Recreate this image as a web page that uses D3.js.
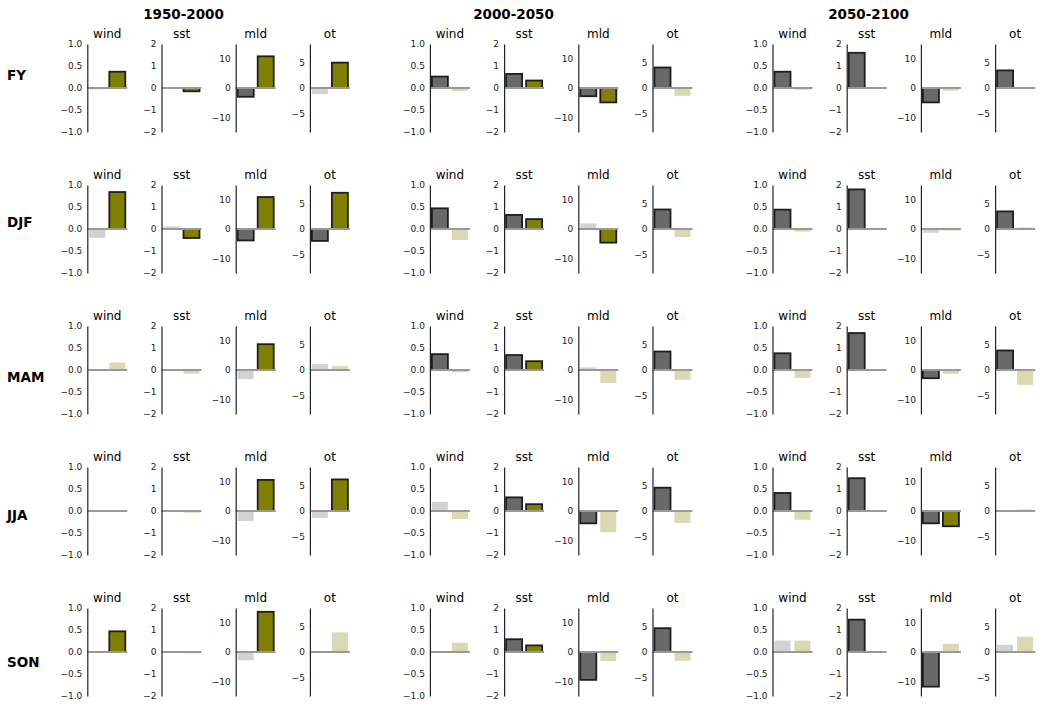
<!DOCTYPE html>
<html>
<head>
<meta charset="utf-8">
<script src="https://cdn.jsdelivr.net/npm/d3@7"></script>
<style>
  html, body { margin: 0; padding: 0; background: #fff; }
  svg { display: block; font-family: "DejaVu Sans", sans-serif; }
</style>
</head>
<body>
<svg id="chart" width="1042" height="709"></svg>
<script>
// ---------------- data ----------------
const periods = ["1950-2000", "2000-2050", "2050-2100"];
const seasons = ["FY", "DJF", "MAM", "JJA", "SON"];
const variables = ["wind", "sst", "mld", "ot"];

// values[period][season] = [first bar (grey), second bar (olive)]
const windVals = [
  [[-0.03, 0.37], [-0.20, 0.84], [0.00, 0.17], [0.00, 0.01], [0.00, 0.47]],
  [[0.26, -0.07], [0.47, -0.25], [0.36, -0.05], [0.21, -0.18], [0.00, 0.21]],
  [[0.37, -0.04], [0.44, -0.06], [0.38, -0.18], [0.41, -0.20], [0.26, 0.26]]
];
const sstVals = [
  [[0.00, -0.15], [0.12, -0.41], [0.00, -0.17], [0.00, -0.08], [0.00, -0.06]],
  [[0.64, 0.34], [0.64, 0.45], [0.68, 0.40], [0.62, 0.31], [0.58, 0.30]],
  [[1.60, 0.00], [1.80, 0.00], [1.68, 0.00], [1.49, 0.00], [1.47, 0.00]]
];
const mldVals = [
  [[-3.0, 10.8], [-3.9, 10.9], [-3.1, 8.8], [-3.4, 10.6], [-2.8, 13.7]],
  [[-2.8, -4.9], [1.9, -4.65], [0.9, -4.4], [-4.2, -7.2], [-9.5, -3.1]],
  [[-4.9, -0.9], [-1.3, -0.5], [-2.8, -1.3], [-4.2, -5.2], [-11.8, 2.8]]
];
const otVals = [
  [[-1.2, 4.9], [-2.3, 7.0], [1.17, 0.78], [-1.36, 6.1], [0.0, 3.8]],
  [[3.96, -1.5], [3.77, -1.56], [3.57, -1.9], [4.5, -2.3], [4.6, -1.7]],
  [[3.4, 0.0], [3.4, 0.3], [3.77, -2.86], [0.0, 0.3], [1.38, 2.96]]
];
// significance flags (1 = significant)
const windSig = [
  [[0, 1], [0, 1], [0, 0], [0, 0], [0, 1]],
  [[1, 0], [1, 0], [1, 0], [0, 0], [0, 0]],
  [[1, 0], [1, 0], [1, 0], [1, 0], [0, 0]]
];
const sstSig = [
  [[0, 1], [0, 1], [0, 0], [0, 0], [0, 0]],
  [[1, 1], [1, 1], [1, 1], [1, 1], [1, 1]],
  [[1, 0], [1, 0], [1, 0], [1, 0], [1, 0]]
];
const mldSig = [
  [[1, 1], [1, 1], [0, 1], [0, 1], [0, 1]],
  [[1, 1], [0, 1], [0, 0], [1, 0], [1, 0]],
  [[1, 0], [0, 0], [1, 0], [1, 1], [1, 0]]
];
const otSig = [
  [[0, 1], [1, 1], [0, 0], [0, 1], [0, 0]],
  [[1, 0], [1, 0], [1, 0], [1, 0], [1, 0]],
  [[1, 0], [1, 0], [1, 0], [0, 0], [0, 0]]
];

// axis limits and tick labels
const windLim = [-1, 1], windTicks = [-1, -0.5, 0, 0.5, 1];
const sstLim = [-2, 2], sstTicks = [-2, -1, 0, 1, 2];
const mldLim = [-15, 15], mldTicks = [-10, 0, 10];
const otLim = [-8.5, 8.5], otTicks = [-5, 0, 5];

// ---------------- layout / style ----------------
const varInfo = {
  wind: { vals: windVals, sig: windSig, lim: windLim, ticks: windTicks, fmt: d3.format(".1f") },
  sst:  { vals: sstVals,  sig: sstSig,  lim: sstLim,  ticks: sstTicks,  fmt: d3.format("d") },
  mld:  { vals: mldVals,  sig: mldSig,  lim: mldLim,  ticks: mldTicks,  fmt: d3.format("d") },
  ot:   { vals: otVals,   sig: otSig,   lim: otLim,   ticks: otTicks,   fmt: d3.format("d") }
};
const L = {
  x0: 87.3, periodStep: 342.6, varStep: 74.2, panelW: 40,
  y0: 44, rowStep: 141, panelH: 88,
  periodTitleX: [183.5, 513.5, 868.5], periodTitleY: 18.5,
  rowLabelX: 7, rowLabelCY: [75, 222, 377, 515, 662]
};
const colors = {
  sig: ["#696969", "#808000"],
  ns: ["#d2d2d2", "#d9d9b3"],
  edge: "#1e1e1e",
  zero: "#999999",
  axis: "#222222"
};

const svg = d3.select("#chart");

// period titles
svg.selectAll("text.ptitle").data(periods).join("text")
  .attr("class", "ptitle")
  .attr("x", (d, i) => L.periodTitleX[i])
  .attr("y", L.periodTitleY)
  .attr("text-anchor", "middle")
  .attr("font-weight", "bold")
  .attr("font-size", "13.5px")
  .attr("fill", "#000")
  .text(d => d);

// row labels
svg.selectAll("text.rlabel").data(seasons).join("text")
  .attr("class", "rlabel")
  .attr("x", L.rowLabelX)
  .attr("y", (d, i) => L.rowLabelCY[i])
  .attr("dy", "0.36em")
  .attr("font-weight", "bold")
  .attr("font-size", "13.5px")
  .attr("fill", "#000")
  .text(d => d);

const xScale = d3.scaleLinear().domain([-0.5, 1.5]).range([0, L.panelW]);

periods.forEach((p, pi) => {
  seasons.forEach((s, si) => {
    variables.forEach((v, vi) => {
      const info = varInfo[v];
      const gx = L.x0 + pi * L.periodStep + vi * L.varStep;
      const gy = L.y0 + si * L.rowStep;
      const g = svg.append("g").attr("transform", `translate(${gx},${gy})`);
      const y = d3.scaleLinear().domain(info.lim).range([L.panelH, 0]);

      // title
      g.append("text")
        .attr("x", L.panelW / 2)
        .attr("y", -6)
        .attr("text-anchor", "middle")
        .attr("font-size", "12px")
        .attr("fill", "#000")
        .text(v);

      const vals = info.vals[pi][si];
      const sig = info.sig[pi][si];
      const bars = vals.map((val, k) => ({ k, val, sig: sig[k] }));

      g.selectAll("rect.bar").data(bars).join("rect")
        .attr("class", "bar")
        .attr("x", d => xScale(d.k - 0.4))
        .attr("width", d => xScale(d.k + 0.4) - xScale(d.k - 0.4))
        .attr("y", d => Math.min(y(0), y(d.val)))
        .attr("height", d => Math.abs(y(d.val) - y(0)))
        .attr("fill", d => d.sig ? colors.sig[d.k] : colors.ns[d.k])
        .attr("stroke", d => d.sig ? colors.edge : "none")
        .attr("stroke-width", 1.8);

      // zero line
      g.append("line")
        .attr("x1", 0).attr("x2", L.panelW)
        .attr("y1", y(0)).attr("y2", y(0))
        .attr("stroke", colors.zero)
        .attr("stroke-width", 2.2);

      // y axis
      const ax = g.append("g").call(
        d3.axisLeft(y).tickValues(info.ticks).tickFormat(info.fmt)
          .tickSizeInner(0).tickSizeOuter(0).tickPadding(5)
      );
      ax.select(".domain").attr("stroke", colors.axis).attr("stroke-width", 1.2);
      ax.selectAll("text").attr("font-size", "9px").attr("fill", "#222")
        .attr("font-family", "DejaVu Sans, sans-serif");
    });
  });
});
</script>
</body>
</html>
